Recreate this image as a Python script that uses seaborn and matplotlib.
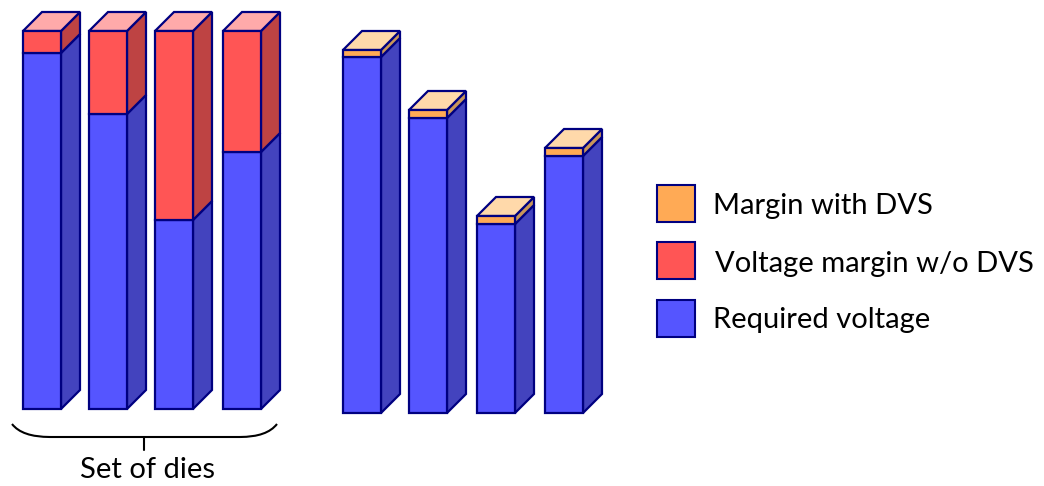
import numpy as np
import matplotlib
matplotlib.use("Agg")
import matplotlib.pyplot as plt
from matplotlib.patches import Polygon, Rectangle
from matplotlib.path import Path
from matplotlib.patches import PathPatch
import seaborn as sns

sns.set_style("white")
plt.rcParams['font.family'] = ['Lato', 'DejaVu Sans']

# ---- data (pixel-height units) ----
required_voltage = [356, 295, 189, 257]
margin_without_dvs = [22, 83, 189, 121]
margin_with_dvs = [7, 8, 8, 8]
legend_labels = ["Margin with DVS", "Voltage margin w/o DVS", "Required voltage"]
group_label = "Set of dies"

# ---- styles ----
EDGE = "#000080"
BLUE = ("#5555FF", "#4343BE", "#7777FF")
RED = ("#FF5555", "#BE4343", "#FFAAAA")
ORANGE = ("#FFAA55", "#C8965A", "#FFD9AA")
W = 38
DX, DY = 19, 19
LW = 1.6

fig = plt.figure(figsize=(10.44, 4.86), dpi=100)
ax = fig.add_axes([0, 0, 1, 1])
ax.set_xlim(0, 1044)
ax.set_ylim(-77, 409)
ax.axis("off")

left_x = [23, 89, 155, 223]
right_x = [343, 409, 477, 545]


def segment(x, y0, y1, colors, top):
    front, side, topc = colors
    ax.bar(x, y1 - y0, bottom=y0, width=W, align="edge", color=front,
           edgecolor=EDGE, linewidth=LW, zorder=3)
    ax.add_patch(Polygon([(x + W, y0), (x + W + DX, y0 + DY), (x + W + DX, y1 + DY), (x + W, y1)],
                         closed=True, facecolor=side, edgecolor=EDGE, linewidth=LW, zorder=2))
    if top:
        ax.add_patch(Polygon([(x, y1), (x + DX, y1 + DY), (x + W + DX, y1 + DY), (x + W, y1)],
                             closed=True, facecolor=topc, edgecolor=EDGE, linewidth=LW, zorder=2))


for x, r, m in zip(left_x, required_voltage, margin_without_dvs):
    segment(x, 0, r, BLUE, False)
    segment(x, r, r + m, RED, True)

base = -4
for x, r, m in zip(right_x, required_voltage, margin_with_dvs):
    segment(x, base, base + r, BLUE, False)
    segment(x, base + r, base + r + m, ORANGE, True)

# brace under the first group
verts = [(12, 409 - 424), (22, 409 - 437), (50, 409 - 437), (240, 409 - 437),
         (240, 409 - 437), (267, 409 - 437), (277, 409 - 424)]
codes = [Path.MOVETO, Path.CURVE3, Path.CURVE3, Path.LINETO,
         Path.MOVETO, Path.CURVE3, Path.CURVE3]
ax.add_patch(PathPatch(Path(verts, codes), facecolor="none", edgecolor="black", linewidth=1.5))
ax.plot([144, 144], [409 - 437, 409 - 450], color="black", linewidth=1.5)
ax.text(147, 409 - 470, group_label, ha="center", va="center", fontsize=21, color="black")

# legend
leg_y = [206, 264, 320]
text_x = [713, 715, 713]
box_y = [204, 261, 318]
for lab, col, yc, tx, by in zip(legend_labels, [ORANGE[0], RED[0], BLUE[0]], leg_y, text_x, box_y):
    ax.add_patch(Rectangle((657, 409 - by - 18.5), 38, 37, facecolor=col,
                           edgecolor=EDGE, linewidth=1.5))
    ax.text(tx, 409 - yc, lab, ha="left", va="center", fontsize=21, color="black")

fig.savefig("out.png", dpi=100)
